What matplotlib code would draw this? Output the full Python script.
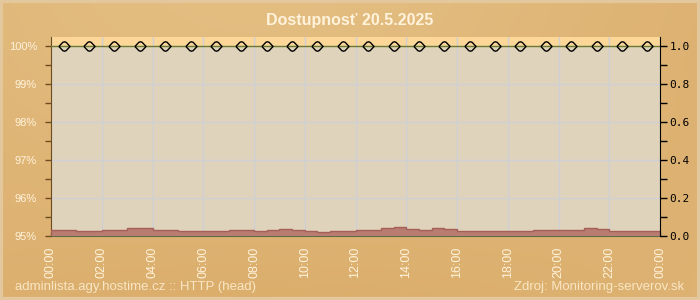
import numpy as np
import matplotlib.pyplot as plt
from matplotlib.patches import Rectangle
from matplotlib.ticker import MultipleLocator, FixedLocator

# Data
title = "Dostupnosť 20.5.2025"
footer_left = "adminlista.agy.hostime.cz :: HTTP (head)"
footer_right = "Zdroj: Monitoring-serverov.sk"

# availability check points (hour of day) and value in %
check_hours = [h + 0.5 for h in range(24)]
availability = [100.0] * 24

# response time per half hour (right axis, seconds)
resp_edges = [i * 0.5 for i in range(49)]
resp_values = [
    0.033, 0.033, 0.026, 0.026, 0.032, 0.032, 0.041, 0.041,
    0.033, 0.033, 0.028, 0.028, 0.028, 0.028, 0.033, 0.033,
    0.028, 0.031, 0.037, 0.033, 0.026, 0.021, 0.028, 0.028,
    0.033, 0.033, 0.041, 0.046, 0.037, 0.033, 0.041, 0.038,
    0.028, 0.026, 0.026, 0.026, 0.026, 0.026, 0.033, 0.033,
    0.033, 0.033, 0.041, 0.037, 0.028, 0.026, 0.026, 0.026,
]

x_major = list(range(0, 25, 2))
x_labels = ["%02d:00" % (h % 24) for h in x_major]
y_left = [95, 96, 97, 98, 99, 100]
y_right = [0.0, 0.2, 0.4, 0.6, 0.8, 1.0]

cream = "#fff3dc"
fig = plt.figure(figsize=(7, 3), dpi=100)

# background gradient
bg = fig.add_axes([0, 0, 1, 1], zorder=-5)
gx = np.linspace(0, 1, 200)
gy = np.linspace(0, 1, 100)
X, Y = np.meshgrid(gx, gy)
t = 0.5 + 0.3 * np.sin(X * 3.0 + 0.5) * np.cos(Y * 2.0) - 0.15 * Y
c1 = np.array([0xd8, 0xa8, 0x64]) / 255
c2 = np.array([0xe6, 0xc2, 0x88]) / 255
img = c1[None, None, :] * (1 - t[..., None]) + c2[None, None, :] * t[..., None]
bg.imshow(img, aspect="auto", extent=[0, 1, 0, 1])
bg.set_axis_off()
fig.patches.append(Rectangle((0.002, 0.004), 0.996, 0.992, transform=fig.transFigure,
                             fill=False, ec="#e3c89e", lw=3, zorder=10))

ax = fig.add_axes([51 / 700, 64 / 300, 609 / 700, 199 / 300])
ax.set_facecolor("#e0d3bb")
ax.set_xlim(0, 24)
ax.set_ylim(95, 100 + 9 / 38)
ax.axhspan(100, 101, color="#fcd797", zorder=0.5)

ax.xaxis.set_major_locator(FixedLocator(x_major))
ax.xaxis.set_minor_locator(MultipleLocator(0.5))
ax.set_xticklabels(x_labels, rotation=90, color=cream, fontsize=9, family="Liberation Sans")
ax.yaxis.set_major_locator(FixedLocator(y_left))
ax.yaxis.set_minor_locator(MultipleLocator(0.5))
ax.set_yticklabels(["%d%%" % v for v in y_left], color=cream, fontsize=8, family="Liberation Sans")
ax.grid(True, which="major", color="#cfcfd6", lw=1)
ax.set_axisbelow(True)

ax.tick_params(axis="x", which="both", direction="in", color="#5d6b45", length=3, width=1, pad=8)
ax.tick_params(axis="y", which="both", direction="out", color="#6e4c1e", length=4, width=1, pad=6)
ax.spines["top"].set_visible(False)
ax.spines["right"].set_visible(False)
ax.spines["left"].set_color("#6e4c1e")
ax.spines["bottom"].set_color("#5d6b45")
ax.spines["bottom"].set_zorder(5)

# wide diamond marker like the original
diamond = [(-1, 0), (-0.3, 0.75), (0, 0.85), (0.3, 0.75), (1, 0),
           (0.3, -0.75), (0, -0.85), (-0.3, -0.75), (-1, 0)]
ax.plot([0, 24], [100, 100], color="#6b7a30", lw=1, zorder=3)
ax.plot(check_hours, availability, ls="none", marker=diamond, ms=8,
        mfc="none", mec="black", mew=1, clip_on=False, zorder=4)

ax2 = ax.twinx()
ax2.set_ylim(0, 1 + 9 / 190)
ax2.yaxis.set_major_locator(FixedLocator(y_right))
ax2.yaxis.set_minor_locator(MultipleLocator(0.1))
ax2.set_yticklabels(["%.1f" % v for v in y_right], fontsize=8, family="DejaVu Sans Mono", color="black")
ax2.tick_params(axis="y", which="both", direction="out", color="black", length=5, width=1, pad=2)
for s in ["top", "left", "bottom"]:
    ax2.spines[s].set_visible(False)
ax2.spines["right"].set_color("black")
ax2.stairs(resp_values, resp_edges, fill=True, color="#b87c70", zorder=2)
ax2.stairs(resp_values, resp_edges, color="#a65f58", lw=1, zorder=2)

fig.text(0.5, 0.933, title, ha="center", va="center", color=cream, fontsize=11.5,
         fontweight="bold", family="Liberation Sans")
fig.text(15 / 700, 13 / 300, footer_left, ha="left", va="center", color="#f8e6c4",
         fontsize=9.5, family="Liberation Sans")
fig.text(684 / 700, 13 / 300, footer_right, ha="right", va="center", color="#f8e6c4",
         fontsize=9.5, family="Liberation Sans")

fig.savefig("out.png", dpi=100)
